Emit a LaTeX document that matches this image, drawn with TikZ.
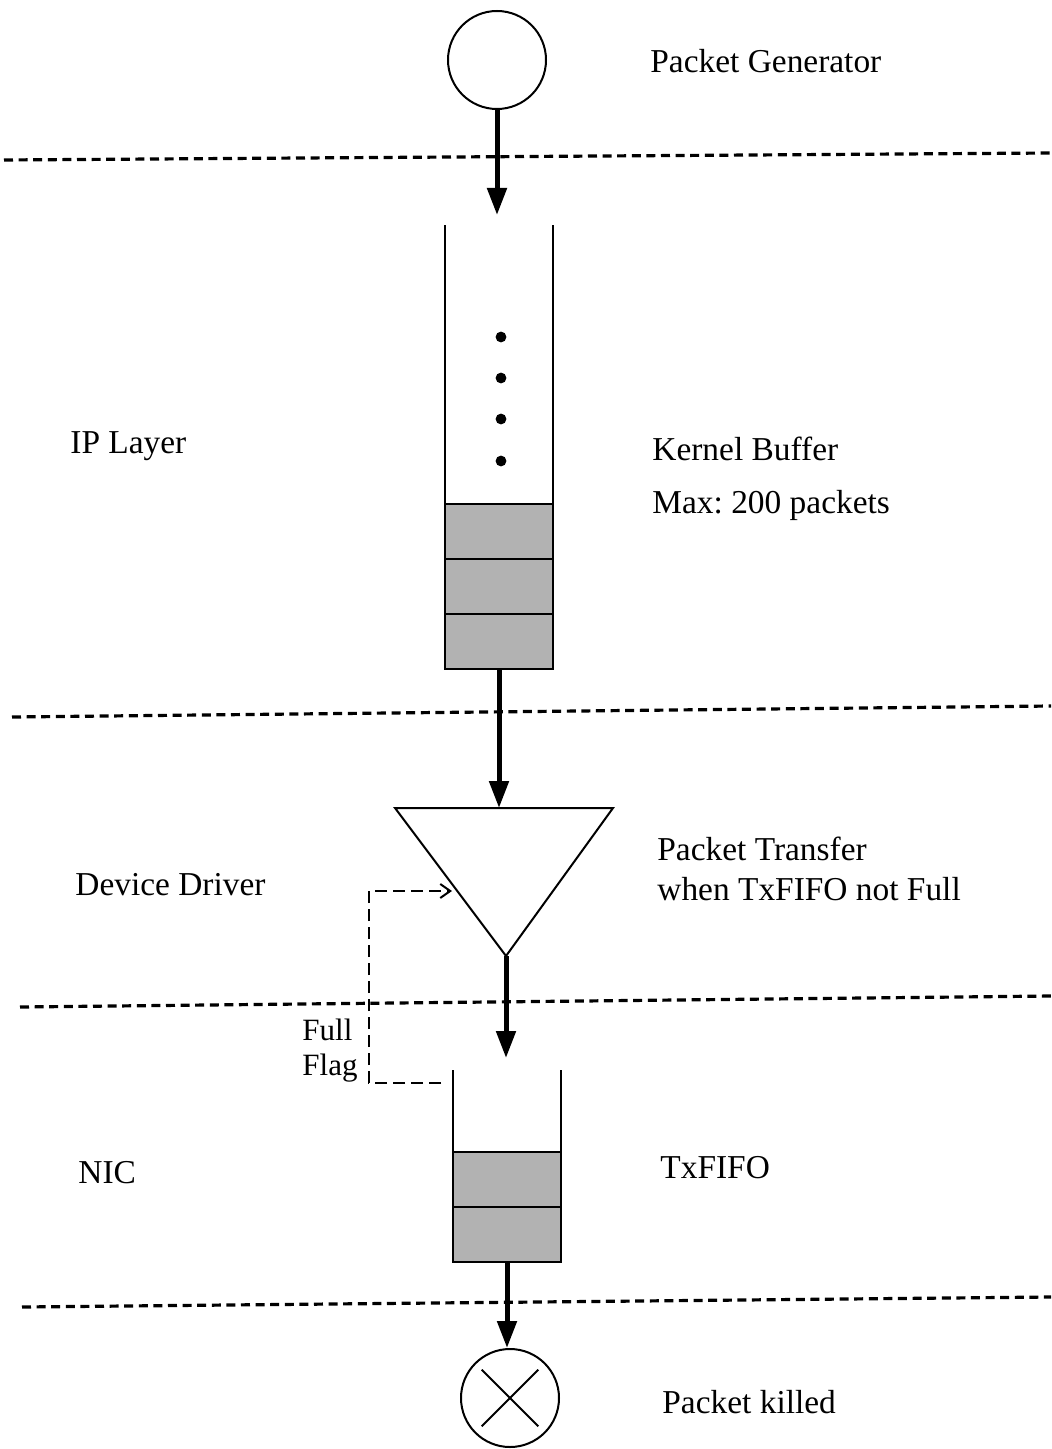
\documentclass[tikz,border=0pt]{standalone}
\usepackage{fontspec}
\setmainfont{Liberation Serif}
\usetikzlibrary{arrows.meta,calc}
\frenchspacing
\begin{document}
\begin{tikzpicture}[x=0.5pt,y=-0.5pt,
  lbl/.style={anchor=base west, inner sep=0, font=\fontsize{16.7}{20}\selectfont},
  smalllbl/.style={anchor=base west, inner sep=0, font=\fontsize{15.5}{17}\selectfont},
  divider/.style={line width=1.6pt, dash pattern=on 4.5pt off 2.8pt},
  flow/.style={line width=2.5pt, -{Triangle[length=13.5pt,width=9.5pt]}},
  cell/.style={draw, line width=1pt, fill=black!30, minimum width=54pt, minimum height=27.5pt, inner sep=0, outer sep=0},
  wall/.style={line width=1pt},
  fb/.style={line width=1.1pt, dash pattern=on 6pt off 3pt, -{Straight Barb[length=5pt,width=7pt,line width=1pt]}},
  ring/.style={circle, draw, line width=1pt, minimum size=49pt, inner sep=0}]
\useasboundingbox (0,0) rectangle (1051,1449);
% dividers
\draw[divider] (4,160) -- (1051,153);
\draw[divider] (12,717) -- (1051,706);
\draw[divider] (20,1007) -- (1051,996);
\draw[divider] (22,1307) -- (1051,1297);
% packet generator
\node[ring] (gen) at (497,60) {};
\coordinate (kin) at (497,215);
\draw[flow] (gen.south) -- (kin);
% kernel buffer
\node[cell] (kb1) at (499,531) {};
\node[cell] (kb2) at (499,586.5) {};
\node[cell] (kb3) at (499,641.5) {};
\coordinate (kbtop) at (499,225);
\draw[wall] (kb1.north west) -- (kb1.north west |- kbtop);
\draw[wall] (kb1.north east) -- (kb1.north east |- kbtop);
\foreach \yy in {337,378,419,461} \fill (501,\yy) circle[radius=2.7pt];
% triangle
\coordinate (tl) at (395,808);
\coordinate (tr) at (613,808);
\coordinate (tb) at (506,956);
\draw[line width=1pt, line join=miter] (tl) -- (tr) -- (tb) -- cycle;
\draw[flow] (kb3.south) -- (kb3.south |- tl);
% txfifo
\node[cell] (tx1) at (507,1179.5) {};
\node[cell] (tx2) at (507,1234.5) {};
\coordinate (txtop) at (507,1070);
\draw[wall] (tx1.north west) -- (tx1.north west |- txtop);
\draw[wall] (tx1.north east) -- (tx1.north east |- txtop);
\coordinate (fin) at (506,1058);
\draw[flow] (tb) -- (fin);
% feedback
\coordinate (fbs) at (441,1083);
\coordinate (fbc1) at (369,1083);
\coordinate (fbc2) at (369,891);
\coordinate (fbe) at (452,891);
\draw[fb] (fbs) -- (fbc1) -- (fbc2) -- (fbe);
% killed
\node[ring] (kill) at (510,1398) {};
\draw[flow] (tx2.south) -- (tx2.south |- kill.north);
\draw[line width=1pt, shorten <=5pt, shorten >=5pt] (kill.north west) -- (kill.south east);
\draw[line width=1pt, shorten <=5pt, shorten >=5pt] (kill.north east) -- (kill.south west);
% labels
\node[lbl] (lgen) at (650,73) {Packet Generator};
\node[lbl] (lkb) at (652,460) {Kernel Buffer};
\node[lbl] (lmax) at (652,513) {Max: 200 packets};
\node[lbl] (lip) at (70,453) {IP Layer};
\node[lbl] (ldd) at (75,895) {Device Driver};
\node[lbl] (lpt) at (657,860) {Packet Transfer};
\node[lbl] (lwhen) at (657,900) {when TxFIFO not Full};
\node[smalllbl] (lfull) at (302,1040) {Full};
\node[smalllbl] (lflag) at (302,1075) {Flag};
\node[lbl] (lnic) at (78,1183) {NIC};
\node[lbl] (ltx) at (660,1178) {TxFIFO};
\node[lbl] (lkill) at (662,1413) {Packet killed};
\end{tikzpicture}
\end{document}
